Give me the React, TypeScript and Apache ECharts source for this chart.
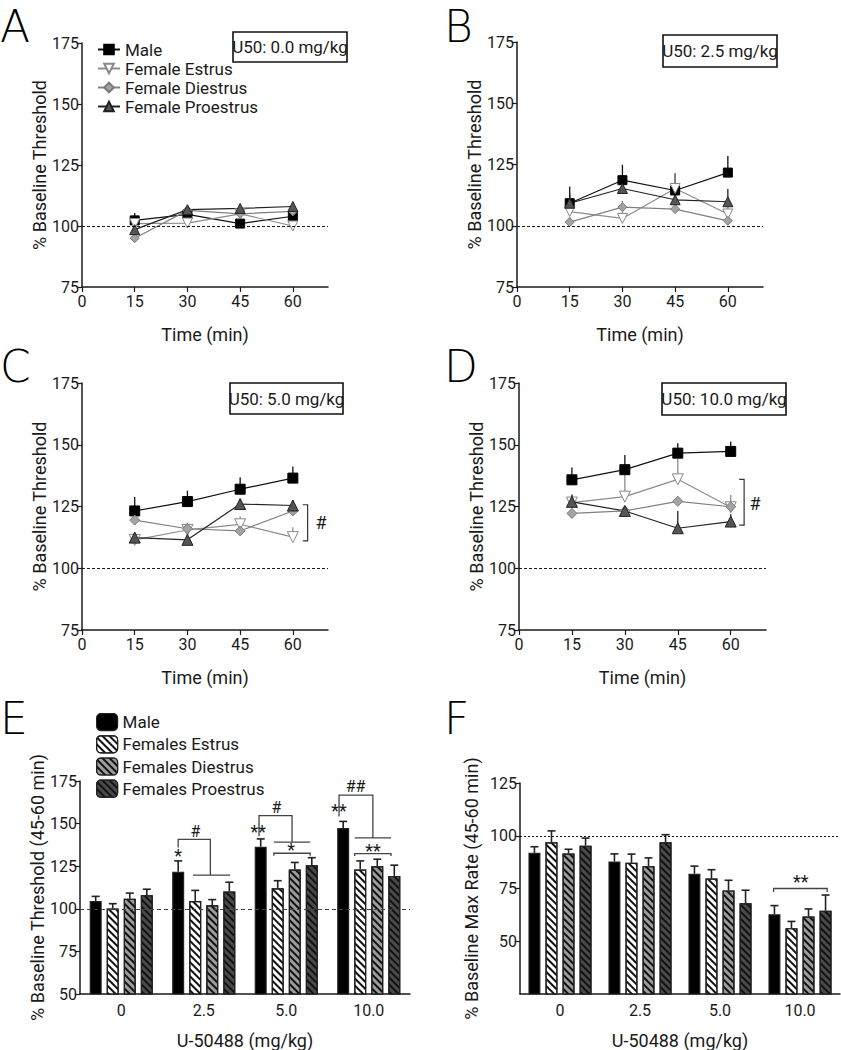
import React, { useEffect, useRef } from 'react';
import * as echarts from 'echarts';

// ---------- DATA ----------
const TIMES = [15, 30, 45, 60];
const TIME_TICKS = [0, 15, 30, 45, 60];
const GROUPS = ['Male', 'Female Estrus', 'Female Diestrus', 'Female Proestrus'];
const BAR_GROUPS = ['Male ', 'Females Estrus', 'Females Diestrus', 'Females Proestrus'];
const DOSES = ['0', '2.5', '5.0', '10.0'];
const DOSE_BOXES = ['U50: 0.0 mg/kg', 'U50: 2.5 mg/kg', 'U50: 5.0 mg/kg', 'U50: 10.0 mg/kg'];
const PANEL_LETTERS = ['A', 'B', 'C', 'D', 'E', 'F'];

// Panel A (0.0 mg/kg)
const A_MALE = [102.3, 104.8, 101, 104];
const A_ESTRUS = [101, 101.2, 105, 100];
const A_DIESTRUS = [95, 106.4, 105, 106];
const A_PROESTRUS = [98.5, 106.7, 107.2, 108];
const A_MALE_ERR = [3, 2, 1.5, 2];
const A_ESTRUS_ERR = [2, 1.5, 1.5, 1.5];
const A_DIESTRUS_ERR = [1.5, 1.5, 1.5, 1.5];
const A_PROESTRUS_ERR = [2, 1.5, 1.5, 1.5];

// Panel B (2.5 mg/kg)
const B_MALE = [109.2, 118.6, 114.4, 121.7];
const B_ESTRUS = [105.8, 103, 115.2, 104.8];
const B_DIESTRUS = [101.5, 107.6, 106.8, 102];
const B_PROESTRUS = [109.2, 115.2, 110.6, 109.8];
const B_MALE_ERR = [6.8, 6.3, 7, 6.8];
const B_ESTRUS_ERR = [3, 3, 6, 3];
const B_DIESTRUS_ERR = [2, 2.5, 2, 2];
const B_PROESTRUS_ERR = [4, 3, 4, 5.2];

// Panel C (5.0 mg/kg)
const C_MALE = [123.2, 127, 132, 136.5];
const C_ESTRUS = [111.5, 115.5, 117.8, 112.6];
const C_DIESTRUS = [119.5, 116, 115.1, 123.2];
const C_PROESTRUS = [112.4, 111.5, 126, 125.4];
const C_MALE_ERR = [5.6, 4.4, 4.8, 4.7];
const C_ESTRUS_ERR = [2, 3, 3.2, 4];
const C_DIESTRUS_ERR = [2, 2, 2, 2];
const C_PROESTRUS_ERR = [2, 2, 2, 2];
const C_BRACKET_X = [62.8, 64.2];
const C_BRACKET_Y = [111.1, 125.7];
const C_HASH = [68, 118.5];

// Panel D (10.0 mg/kg)
const D_MALE = [135.8, 139.9, 146.6, 147.3];
const D_ESTRUS = [126.6, 129, 136, 124.7];
const D_DIESTRUS = [122.2, 123.2, 127.1, 124.9];
const D_PROESTRUS = [126.9, 123.2, 116.2, 118.9];
const D_MALE_ERR = [5, 6, 4, 4];
const D_ESTRUS_ERR = [3, 10, 10, 5];
const D_DIESTRUS_ERR = [2, 2, 2, 2];
const D_PROESTRUS_ERR = [3, 2, 7, 3];
const D_BRACKET_X = [62.4, 63.8];
const D_BRACKET_Y = [117.5, 136];
const D_HASH = [66.9, 126.4];

// Panel E: % baseline threshold (45-60 min), by dose
const E_MALE = [104.6, 121.8, 136.4, 147.4];
const E_ESTRUS = [100.2, 104.6, 112.1, 123.1];
const E_DIESTRUS = [105.9, 102.1, 123.1, 125];
const E_PROESTRUS = [108, 110.2, 125.6, 119.3];
const E_MALE_ERR = [2.7, 6.3, 4.6, 3.9];
const E_ESTRUS_ERR = [2.8, 6.2, 4.4, 5];
const E_DIESTRUS_ERR = [3.3, 3.3, 4.1, 4.1];
const E_PROESTRUS_ERR = [3.5, 5.4, 4.4, 6.3];
// significance brackets: points [category, offset within band, value]
const E_LINES = [
  [[1, -0.31, 136], [1, -0.31, 140.7], [1, 0.08, 140.7], [1, 0.08, 119.8]],
  [[1, -0.13, 119.8], [1, 0.32, 119.8]],
  [[2, -0.33, 142.6], [2, -0.33, 154.7], [2, 0.07, 154.7], [2, 0.07, 139.1]],
  [[2, -0.15, 139.1], [2, 0.29, 139.1]],
  [[2, -0.15, 131.2], [2, -0.15, 132.6], [2, 0.29, 132.6], [2, 0.29, 131.2]],
  [[3, -0.36, 154.2], [3, -0.36, 166.7], [3, 0.05, 166.7], [3, 0.05, 141.6]],
  [[3, -0.17, 141.6], [3, 0.27, 141.6]],
  [[3, -0.17, 131], [3, -0.17, 132.4], [3, 0.27, 132.4], [3, 0.27, 131]],
];
const E_MARKS = [
  [1, -0.31, 131.5, '*'],
  [1, -0.1, 145.5, '#'],
  [2, -0.34, 145.5, '**'],
  [2, -0.12, 159.5, '#'],
  [2, 0.06, 135, '*'],
  [3, -0.36, 157.5, '**'],
  [3, -0.16, 171.5, '##'],
  [3, 0.05, 134.5, '**'],
];

// Panel F: % baseline max rate (45-60 min)
const F_MALE = [91.9, 87.8, 82, 62.8];
const F_ESTRUS = [96.9, 87.2, 79.7, 56.2];
const F_DIESTRUS = [91.6, 85.6, 74.1, 61.7];
const F_PROESTRUS = [95.3, 96.9, 68, 64.5];
const F_MALE_ERR = [2.9, 3.6, 3.6, 4.1];
const F_ESTRUS_ERR = [5.4, 4.1, 4.2, 3.2];
const F_DIESTRUS_ERR = [2, 3.9, 4.8, 3.6];
const F_PROESTRUS_ERR = [3.6, 3.6, 6.2, 7.4];
const F_LINES = [[[3, -0.33, 73.4], [3, -0.33, 75], [3, 0.34, 75], [3, 0.34, 73.4]]];
const F_MARKS = [[3, 0.01, 78.5, '**']];

// ---------- STYLE ----------
const FONT = "Roboto, 'Liberation Sans', sans-serif";
const INK = '#1a1a1a';
const LINE_COLORS = ['#111', '#8c8c8c', '#808080', '#222'];
const MARK_FILL = ['#000', '#fff', '#a3a3a3', '#555'];
const MARK_BORDER = ['#000', '#888', '#7a7a7a', '#222'];
const SYMBOLS = ['rect', 'triangle', 'diamond', 'triangle'];
const BAR_FILL = ['#000', '#fff', '#9c9c9c', '#4a4a4a'];
const BAR_WIDTH = 12;
const BAR_GAP = 0.42;
const BAR_STEP = BAR_WIDTH * (1 + BAR_GAP);

const GRIDS = [
  [82, 43, 246, 244],
  [517, 42, 246, 245],
  [82, 383, 246, 247],
  [519, 383, 247, 247],
  [80, 781, 330, 216],
  [520, 783, 320, 214],
];
const BOXES = [
  [233, 32, 114, 30],
  [663, 35, 114, 32],
  [230, 383, 113, 31],
  [662, 383, 124, 32],
];
const LETTER_POS = [[0, 4], [444, 4], [0, 344], [444, 344], [0, 696], [444, 696]];

const LINE_PANELS = [
  { means: [A_MALE, A_ESTRUS, A_DIESTRUS, A_PROESTRUS], errs: [A_MALE_ERR, A_ESTRUS_ERR, A_DIESTRUS_ERR, A_PROESTRUS_ERR], bracket: null, size: 9 },
  { means: [B_MALE, B_ESTRUS, B_DIESTRUS, B_PROESTRUS], errs: [B_MALE_ERR, B_ESTRUS_ERR, B_DIESTRUS_ERR, B_PROESTRUS_ERR], bracket: null, size: 9 },
  { means: [C_MALE, C_ESTRUS, C_DIESTRUS, C_PROESTRUS], errs: [C_MALE_ERR, C_ESTRUS_ERR, C_DIESTRUS_ERR, C_PROESTRUS_ERR], bracket: { x: C_BRACKET_X, y: C_BRACKET_Y, hash: C_HASH }, size: 10 },
  { means: [D_MALE, D_ESTRUS, D_DIESTRUS, D_PROESTRUS], errs: [D_MALE_ERR, D_ESTRUS_ERR, D_DIESTRUS_ERR, D_PROESTRUS_ERR], bracket: { x: D_BRACKET_X, y: D_BRACKET_Y, hash: D_HASH }, size: 10 },
];
const BAR_PANELS = [
  { means: [E_MALE, E_ESTRUS, E_DIESTRUS, E_PROESTRUS], errs: [E_MALE_ERR, E_ESTRUS_ERR, E_DIESTRUS_ERR, E_PROESTRUS_ERR], lines: E_LINES, marks: E_MARKS, refType: [4, 3] as any, refColor: '#444', nameGap: 31 },
  { means: [F_MALE, F_ESTRUS, F_DIESTRUS, F_PROESTRUS], errs: [F_MALE_ERR, F_ESTRUS_ERR, F_DIESTRUS_ERR, F_PROESTRUS_ERR], lines: F_LINES, marks: F_MARKS, refType: [2, 2] as any, refColor: '#111', nameGap: 40 },
];

const DECAL = {
  symbol: 'rect',
  symbolSize: 1,
  color: '#111',
  dashArrayX: [1, 0],
  dashArrayY: [2, 2.5],
  rotation: Math.PI / 4,
};

function axisCommon() {
  return {
    axisLine: { show: true, lineStyle: { color: INK, width: 1.5 } },
    axisTick: { show: true, length: 5, lineStyle: { color: INK, width: 1.2 } },
    axisLabel: { color: INK, fontSize: 16, fontFamily: FONT },
    splitLine: { show: false },
    nameTextStyle: { color: INK, fontSize: 18, fontFamily: FONT },
  };
}

function buildOption(): any {
  const xAxis: any[] = [];
  const yAxis: any[] = [];
  const series: any[] = [];

  LINE_PANELS.forEach((p, i) => {
    const c = axisCommon();
    xAxis.push({
      ...c,
      type: 'value', gridIndex: i, min: 0, max: 70, interval: 15,
      name: 'Time (min)', nameLocation: 'middle', nameGap: 38,
      axisTick: { ...c.axisTick, customValues: TIME_TICKS },
      axisLabel: { ...c.axisLabel, customValues: TIME_TICKS, margin: 6 },
    });
    yAxis.push({
      ...c,
      type: 'value', gridIndex: i, min: 75, max: 175, interval: 25,
      name: '% Baseline Threshold', nameLocation: 'middle', nameGap: 34, nameRotate: 90,
      axisLabel: { ...c.axisLabel, margin: 3 },
    });
    const errData: any[] = [];
    p.means.forEach((m, g) => {
      m.forEach((v, k) => errData.push([TIMES[k], v, p.errs[g][k], g]));
    });
    series.push({
      type: 'custom', xAxisIndex: i, yAxisIndex: i, z: 2, silent: true,
      data: errData, encode: { x: 0, y: 1 },
      renderItem: (params: any, api: any) => {
        const a = api.coord([api.value(0), api.value(1)]);
        const b = api.coord([api.value(0), api.value(1) + api.value(2)]);
        const g = api.value(3);
        return { type: 'line', shape: { x1: a[0], y1: a[1], x2: b[0], y2: b[1] }, style: { stroke: LINE_COLORS[g], lineWidth: 1.3 } };
      },
    });
    p.means.forEach((m, g) => {
      series.push({
        type: 'line', name: GROUPS[g], xAxisIndex: i, yAxisIndex: i, z: 3,
        data: TIMES.map((t, k) => [t, m[k]]),
        symbol: SYMBOLS[g], symbolRotate: g === 1 ? 180 : 0,
        symbolSize: g === 3 || g === 1 ? p.size + 1 : p.size,
        showAllSymbol: true,
        itemStyle: { color: MARK_FILL[g], borderColor: MARK_BORDER[g], borderWidth: 1 },
        lineStyle: { color: LINE_COLORS[g], width: 1.2 },
        markLine: g === 0 ? {
          silent: true, symbol: 'none', label: { show: false },
          lineStyle: { type: [3, 2], color: INK, width: 1 },
          data: [{ yAxis: 100 }],
        } : undefined,
      });
    });
    if (p.bracket) {
      const br = p.bracket;
      series.push({
        type: 'custom', xAxisIndex: i, yAxisIndex: i, z: 4, silent: true,
        data: [[br.hash[0], br.hash[1]]], encode: { x: 0, y: 1 },
        renderItem: (params: any, api: any) => {
          const p1 = api.coord([br.x[0], br.y[1]]);
          const p2 = api.coord([br.x[1], br.y[1]]);
          const p3 = api.coord([br.x[1], br.y[0]]);
          const p4 = api.coord([br.x[0], br.y[0]]);
          const h = api.coord([br.hash[0], br.hash[1]]);
          return {
            type: 'group', children: [
              { type: 'polyline', shape: { points: [p1, p2, p3, p4] }, style: { stroke: '#333', lineWidth: 1.2, fill: 'none' } },
              { type: 'text', x: h[0], y: h[1], style: { text: '#', fontSize: 18, fontFamily: FONT, fill: INK, align: 'center', verticalAlign: 'middle' } },
            ],
          };
        },
      });
    }
  });

  BAR_PANELS.forEach((p, j) => {
    const i = 4 + j;
    const c = axisCommon();
    xAxis.push({
      ...c,
      type: 'category', gridIndex: i, data: DOSES,
      name: 'U-50488 (mg/kg)', nameLocation: 'middle', nameGap: 37,
      axisTick: { show: false },
      axisLabel: { ...c.axisLabel, margin: 8 },
    });
    if (j === 0) {
      yAxis.push({
        ...c, type: 'value', gridIndex: i, min: 50, max: 175, interval: 25,
        name: '% Baseline Threshold (45-60 min)', nameLocation: 'middle', nameGap: p.nameGap, nameRotate: 90,
        axisLabel: { ...c.axisLabel, margin: 3 },
      });
    } else {
      yAxis.push({
        ...c, type: 'value', gridIndex: i, min: 25, max: 125, interval: 25,
        name: '% Baseline Max Rate (45-60 min)', nameLocation: 'middle', nameGap: p.nameGap, nameRotate: 90,
        axisTick: { ...c.axisTick, customValues: [50, 75, 100, 125] },
        axisLabel: { ...c.axisLabel, margin: 3, customValues: [50, 75, 100, 125] },
      });
    }
    p.means.forEach((m, g) => {
      series.push({
        type: 'bar', name: BAR_GROUPS[g], xAxisIndex: i, yAxisIndex: i, z: 2,
        data: m, barWidth: BAR_WIDTH, barGap: `${BAR_GAP * 100}%`,
        itemStyle: { color: BAR_FILL[g], borderColor: '#222', borderWidth: 1.2, decal: g > 0 ? DECAL : undefined },
        markLine: g === 0 ? {
          silent: true, symbol: 'none', label: { show: false }, z: 5,
          lineStyle: { type: p.refType, color: p.refColor, width: 1.2 },
          data: [{ yAxis: 100 }],
        } : undefined,
      });
    });
    const errData: any[] = [];
    p.means.forEach((m, g) => m.forEach((v, k) => errData.push([k, v, p.errs[g][k], g])));
    series.push({
      type: 'custom', xAxisIndex: i, yAxisIndex: i, z: 3, silent: true,
      data: errData, encode: { x: 0, y: 1 },
      renderItem: (params: any, api: any) => {
        const a = api.coord([api.value(0), api.value(1)]);
        const b = api.coord([api.value(0), api.value(1) + api.value(2)]);
        const x = a[0] + (api.value(3) - 1.5) * BAR_STEP;
        const st = { stroke: '#222', lineWidth: 1.6 };
        return {
          type: 'group', children: [
            { type: 'line', shape: { x1: x, y1: a[1], x2: x, y2: b[1] }, style: st },
            { type: 'line', shape: { x1: x - 4, y1: b[1], x2: x + 4, y2: b[1] }, style: st },
          ],
        };
      },
    });
    const lines = p.lines;
    const marks = p.marks;
    series.push({
      type: 'custom', xAxisIndex: i, yAxisIndex: i, z: 4, silent: true,
      data: [[marks[0][0], marks[0][2]]], encode: { x: 0, y: 1 },
      renderItem: (params: any, api: any) => {
        const band = api.size([1, 0])[0];
        const pt = (q: any) => {
          const cc = api.coord([q[0], q[2]]);
          return [cc[0] + q[1] * band, cc[1]];
        };
        const children: any[] = [];
        lines.forEach((ln: any) => {
          children.push({ type: 'polyline', shape: { points: ln.map(pt) }, style: { stroke: '#444', lineWidth: 1.3, fill: 'none' } });
        });
        marks.forEach((mk: any) => {
          const q = pt(mk);
          const isStar = String(mk[3]).indexOf('*') >= 0;
          children.push({
            type: 'text', x: q[0], y: q[1],
            style: { text: mk[3], fontSize: isStar ? 18 : 16, fontFamily: FONT, fill: INK, align: 'center', verticalAlign: 'middle' },
          });
        });
        return { type: 'group', children };
      },
    });
  });

  const graphic: any[] = [];
  PANEL_LETTERS.forEach((L, k) => {
    graphic.push({
      type: 'text', left: LETTER_POS[k][0], top: LETTER_POS[k][1],
      style: { text: L, fontSize: 44, fontFamily: "'DejaVu Sans'", fontWeight: 200, fill: '#000' },
    });
  });
  DOSE_BOXES.forEach((t, k) => {
    const [x, y, w, h] = BOXES[k];
    graphic.push({ type: 'rect', shape: { x, y, width: w, height: h }, style: { fill: '#fff', stroke: '#111', lineWidth: 1.6 }, z: 10 });
    graphic.push({ type: 'text', x: x + w / 2, y: y + h / 2, z: 11, style: { text: t, fontSize: 17, fontFamily: FONT, fill: INK, align: 'center', verticalAlign: 'middle' } });
  });

  return {
    animation: false,
    backgroundColor: '#fff',
    grid: GRIDS.map(([left, top, width, height]) => ({ left, top, width, height })),
    xAxis, yAxis, series, graphic,
    legend: [
      {
        data: GROUPS, left: 92, top: 36, orient: 'vertical',
        itemWidth: 22, itemHeight: 12, itemGap: 2,
        textStyle: { fontSize: 17, fontFamily: FONT, color: INK },
        selectedMode: false,
      },
      {
        data: BAR_GROUPS, left: 91, top: 708, orient: 'vertical',
        itemWidth: 21, itemHeight: 17, itemGap: 4,
        formatter: (n: string) => n.trim(),
        textStyle: { fontSize: 17, fontFamily: FONT, color: INK },
        itemStyle: { borderColor: '#222', borderWidth: 1.2 },
        selectedMode: false,
      },
    ],
  };
}

export default function App() {
  const ref = useRef<HTMLDivElement>(null);
  useEffect(() => {
    const chart = echarts.init(ref.current!, null, { renderer: 'svg' });
    chart.setOption(buildOption());
    return () => chart.dispose();
  }, []);
  return <div ref={ref} style={{ position: 'absolute', left: 0, top: 0, width: 841, height: 1050, background: '#fff' }} />;
}
